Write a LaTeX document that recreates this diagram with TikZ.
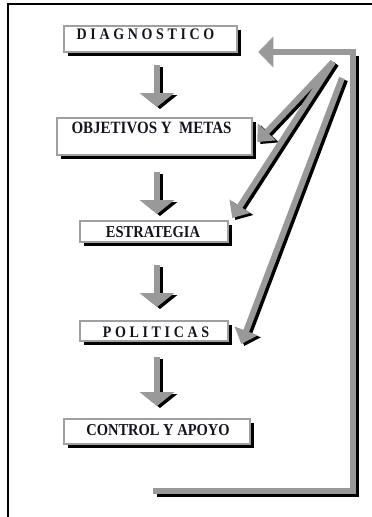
\documentclass[tikz,border=0pt]{standalone}
\usepackage{fontspec}
\setmainfont{Liberation Serif}
\newfontfamily\spacedfont[LetterSpace=26]{Liberation Serif}
\usetikzlibrary{arrows.meta,shadows}
\definecolor{arrgray}{HTML}{999999}
\definecolor{boxgray}{HTML}{A0A0A0}
\definecolor{txtcol}{HTML}{141420}
\newcommand{\tallbox}[1]{\scalebox{1}[1.15]{#1}}
\begin{document}
\begin{tikzpicture}[x=1pt,y=-1pt,
  stagebox/.style={draw=boxgray,line width=2.5pt,fill=white,inner sep=0pt,
    drop shadow={shadow xshift=3.5pt,shadow yshift=-3.5pt,fill=black,opacity=1}},
  lbl/.style={inner sep=0pt,text=txtcol,font=\bfseries},
  downarr/.style={line width=6pt,-{Triangle[width=34pt 0,length=14pt 0]}},
  diagarr/.style={line width=6pt,-{Triangle[width=24pt 0,length=14pt 0]}},
  toparr/.style={line width=6pt,line join=miter,-{Triangle[width=30pt 0,length=15pt 0]}},
  shadowed/.style={black,transform canvas={shift={(3pt,-2pt)}}},
  grayed/.style={arrgray}]
\useasboundingbox (0,0) rectangle (372,517);
% frame
\draw[line width=1.8pt] (8,517) -- (8,4) -- (372,4);

% boxes
\node[stagebox,minimum width=173pt,minimum height=26pt] (diag) at (150.5,39) {};
\node[stagebox,minimum width=195pt,minimum height=37pt] (obj) at (154.5,136.5) {};
\node[stagebox,minimum width=148pt,minimum height=21pt] (est) at (154,231.5) {};
\node[stagebox,minimum width=148pt,minimum height=20pt] (pol) at (154,331) {};
\node[stagebox,minimum width=186pt,minimum height=25pt] (ctl) at (157,431.5) {};

% texts
\node[lbl] (diagtxt) at (145.5,34) {\tallbox{\fontsize{14}{16}\selectfont\spacedfont\bfseries DIAGNOSTICO}};
\node[lbl] (objtxt) at (151.5,128) {\tallbox{\fontsize{15}{17}\selectfont OBJETIVOS Y\ \ METAS}};
\node[lbl] (esttxt) at (153,232) {\tallbox{\fontsize{14.5}{16}\selectfont ESTRATEGIA}};
\node[lbl] (poltxt) at (156,332) {\tallbox{\fontsize{14}{16}\selectfont\spacedfont\bfseries POLITICAS}};
\node[lbl] (ctltxt) at (158,430) {\tallbox{\fontsize{14.5}{16}\selectfont CONTROL Y APOYO}};

% down arrows
\coordinate (a1s) at (157,65);  \coordinate (a1e) at (157,107);
\coordinate (a2s) at (157,172); \coordinate (a2e) at (157,214);
\coordinate (a3s) at (157,265); \coordinate (a3e) at (157,307);
\coordinate (a4s) at (157,357); \coordinate (a4e) at (157,406);
\foreach \s/\e in {a1s/a1e,a2s/a2e,a3s/a3e,a4s/a4e}{
  \draw[downarr,shadowed] (\s) -- (\e);
  \draw[downarr,grayed] (\s) -- (\e);
}

% feedback loop
\coordinate (fbEnd) at (153,490.5);
\coordinate (fbCorner) at (352.5,490.5);
\coordinate (fbTop) at (352.5,52);
\draw[line width=6pt,line join=miter,black,transform canvas={shift={(3.5pt,-3.5pt)}}]
  (fbEnd) -- (fbCorner) -- (fbTop);
\draw[toparr,arrgray] (fbEnd) -- (fbCorner) |- ([xshift=20pt,yshift=-13pt]diag.east);

% diagonal arrows
\coordinate (fbA) at (333,62);
\coordinate (fbB) at (342,78);
\draw[diagarr,shadowed] (fbA) -- ([xshift=4pt,yshift=-5.5pt]obj.east);
\draw[diagarr,shadowed] (fbA) -- ([xshift=3pt,yshift=13.5pt]est.east);
\draw[diagarr,shadowed] (fbB) -- ([xshift=12pt,yshift=-13pt]pol.east);
\draw[diagarr,grayed] (fbA) -- ([xshift=4pt,yshift=-5.5pt]obj.east);
\draw[diagarr,grayed] (fbA) -- ([xshift=3pt,yshift=13.5pt]est.east);
\draw[diagarr,grayed] (fbB) -- ([xshift=12pt,yshift=-13pt]pol.east);
\end{tikzpicture}
\end{document}
